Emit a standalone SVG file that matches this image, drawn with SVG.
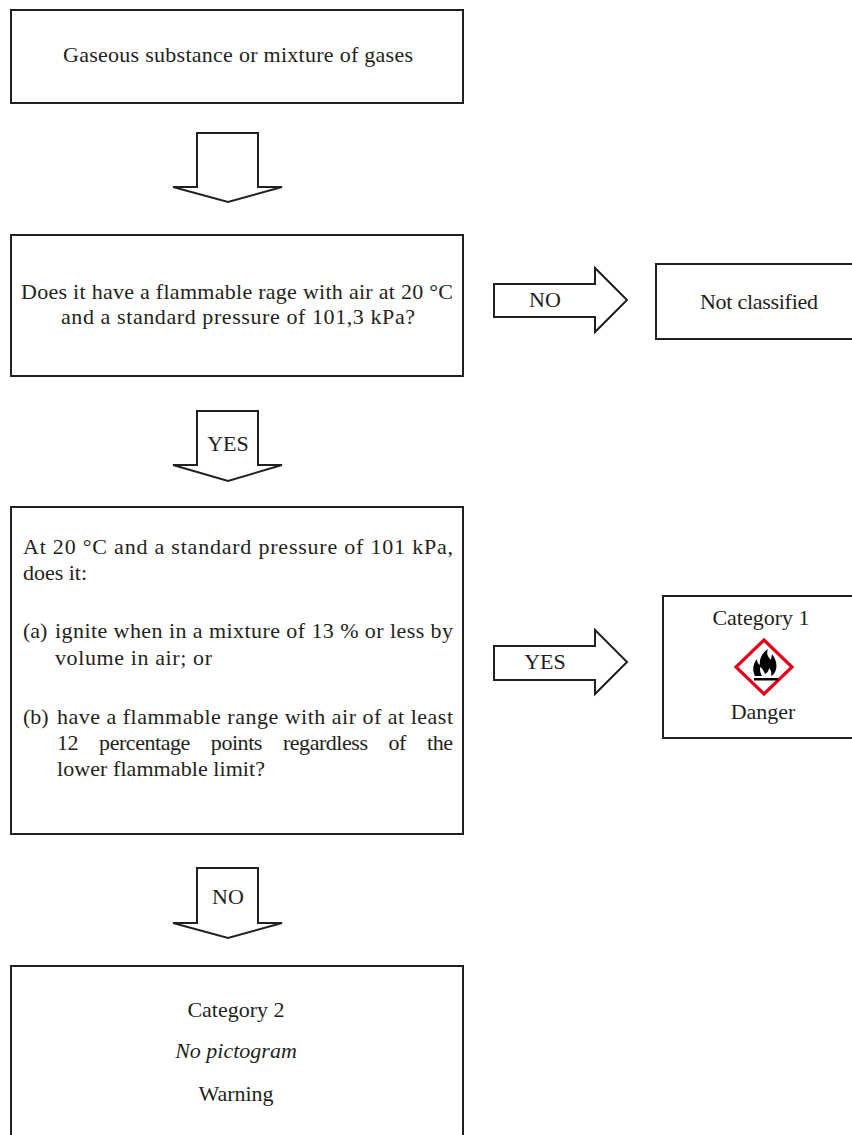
<svg xmlns="http://www.w3.org/2000/svg" width="852" height="1135" viewBox="0 0 852 1135">
<style>
  .box { fill: #ffffff; stroke: #231f20; stroke-width: 2; }
  .arrow { fill: #ffffff; stroke: #231f20; stroke-width: 2; stroke-linejoin: miter; }
  text { font-family: "Liberation Serif", "DejaVu Serif", serif; font-size: 22px; fill: #231f20; }
  .c { text-anchor: middle; }
  .it { font-style: italic; }
</style>
<rect width="852" height="1135" fill="#ffffff"/>

<g id="connectors">
  <g id="arrow-start-q1">
    <path class="arrow" d="M197,133 L258,133 L258,187 L282,187 L228,202 L173,187 L197,187 Z"/>
  </g>
  <g id="arrow-q1-yes">
    <path class="arrow" d="M197,411 L258,411 L258,465 L282,465 L228,481 L173,465 L197,465 Z"/>
    <text class="c" x="228" y="451">YES</text>
  </g>
  <g id="arrow-q1-no">
    <path class="arrow" d="M494,284 L595,284 L595,268 L627,300 L595,332 L595,317 L494,317 Z"/>
    <text class="c" x="545" y="307">NO</text>
  </g>
  <g id="arrow-q2-yes">
    <path class="arrow" d="M494,646 L595,646 L595,630 L627,662 L595,694 L595,680 L494,680 Z"/>
    <text class="c" x="545" y="669">YES</text>
  </g>
  <g id="arrow-q2-no">
    <path class="arrow" d="M197,868 L258,868 L258,923 L282,923 L228,938 L173,923 L197,923 Z"/>
    <text class="c" x="228" y="904">NO</text>
  </g>
</g>

<g id="node-start">
  <rect class="box" x="11" y="10" width="452" height="93"/>
  <text x="63" y="62" textLength="350" lengthAdjust="spacing">Gaseous substance or mixture of gases</text>
</g>

<g id="node-q1">
  <rect class="box" x="11" y="235" width="452" height="141"/>
  <text x="21" y="299" textLength="432" lengthAdjust="spacing">Does it have a flammable rage with air at 20 °C</text>
  <text x="61" y="324" textLength="354" lengthAdjust="spacing">and a standard pressure of 101,3 kPa?</text>
</g>

<g id="node-not-classified">
  <rect class="box" x="656" y="264" width="210" height="75"/>
  <text x="700" y="309" textLength="118" lengthAdjust="spacing">Not classified</text>
</g>

<g id="node-q2">
  <rect class="box" x="11" y="507" width="452" height="327"/>
  <text x="23" y="554" textLength="430" lengthAdjust="spacing">At 20 °C and a standard pressure of 101 kPa,</text>
  <text x="23" y="580" textLength="64" lengthAdjust="spacing">does it:</text>
  <text x="23" y="638">(a)</text>
  <text x="55" y="638" textLength="398" lengthAdjust="spacing">ignite when in a mixture of 13 % or less by</text>
  <text x="55" y="665" textLength="157" lengthAdjust="spacing">volume in air; or</text>
  <text x="23" y="724">(b)</text>
  <text x="57" y="724" textLength="396" lengthAdjust="spacing">have a flammable range with air of at least</text>
  <text x="57" y="750" word-spacing="16" textLength="396" lengthAdjust="spacing">12 percentage points regardless of the</text>
  <text x="57" y="776" textLength="208" lengthAdjust="spacing">lower flammable limit?</text>
</g>

<g id="node-category1">
  <rect class="box" x="663" y="596" width="200" height="142"/>
  <text class="c" x="761" y="625">Category 1</text>
  <g id="pictogram-flame">
    <path d="M764,640 L792,667 L764,694 L736,667 Z" fill="#ffffff" stroke="#e3001b" stroke-width="3.2" stroke-linejoin="miter"/>
    <path d="M755,676 C752,670 753,664 757,659 C757,662 758,664 760,665 C759,659 762,653 768,649 C766,654 768,657 771,660 C771,658 772,656 772,654 C776,659 778,666 775,672 C774,674 773,675 771,676 C772,673 771,670 769,668 C769,671 767,673 765,674 C764,671 762,668 760,667 C760,670 760,673 762,676 Z" fill="#000000"/>
    <rect x="754" y="678" width="24" height="2.5" fill="#000000"/>
  </g>
  <text class="c" x="763" y="719">Danger</text>
</g>

<g id="node-category2">
  <rect class="box" x="11" y="966" width="452" height="180"/>
  <text class="c" x="236" y="1017">Category 2</text>
  <text class="c it" x="236" y="1058">No pictogram</text>
  <text class="c" x="236" y="1101">Warning</text>
</g>
</svg>
